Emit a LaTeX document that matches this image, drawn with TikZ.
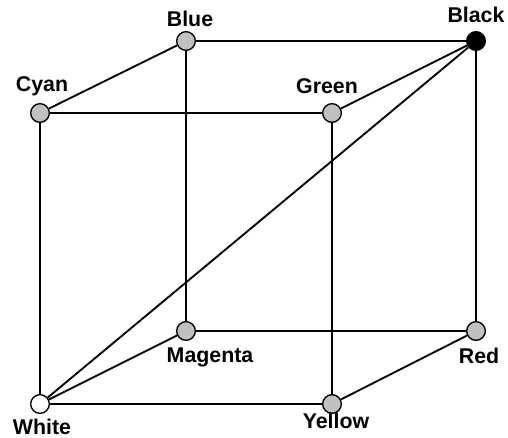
\documentclass[tikz,border=0pt]{standalone}
\usepackage{fontspec}
\setmainfont{Liberation Sans}
\usepackage{tikz}
\usetikzlibrary{positioning}
\definecolor{vgray}{RGB}{192,192,192}

\tikzset{
  vertex/.style={circle, draw=black, line width=1pt, fill=vgray, minimum size=14pt, inner sep=0pt},
  vlabel/.style={font=\fontsize{16}{19}\selectfont\bfseries, inner sep=0pt},
  edge/.style={line width=1.4pt}
}

\begin{document}
\begin{tikzpicture}[x=0.75pt, y=-0.75pt]
\useasboundingbox (0,0) rectangle (508,438);

%====================================================
% VERTICES
%====================================================
\node[vertex] (blue)    at (186,41)  {};
\node[vertex, fill=black] (black) at (476,41) {};
\node[vertex] (cyan)    at (40,113)  {};
\node[vertex] (green)   at (332,113) {};
\node[vertex] (magenta) at (186,331) {};
\node[vertex] (red)     at (476,331) {};
\node[vertex, fill=white] (white) at (40,404) {};
\node[vertex] (yellow)  at (332,404) {};

%====================================================
% LABELS
%====================================================
\node[vlabel] (lblue)    at (190,19)  {Blue};
\node[vlabel] (lblack)   at (476,15)  {Black};
\node[vlabel] (lcyan)    at (42,86)   {Cyan};
\node[vlabel] (lgreen)   at (327,86)  {Green};
\node[vlabel] (lmagenta) at (210,357) {Magenta};
\node[vlabel] (lred)     at (479,356) {Red};
\node[vlabel] (lwhite)   at (42,427)  {White};
\node[vlabel] (lyellow)  at (336,421) {Yellow};

%====================================================
% EDGES
%====================================================
\draw[edge] (blue) -- (black);
\draw[edge] (blue) -- (cyan);
\draw[edge] (cyan) -- (green);
\draw[edge] (green) -- (black);
\draw[edge] (white) -- (black);
\draw[edge] (cyan) -- (white);
\draw[edge] (blue) -- (magenta);
\draw[edge] (green) -- (yellow);
\draw[edge] (black) -- (red);
\draw[edge] (magenta) -- (red);
\draw[edge] (magenta) -- (white);
\draw[edge] (red) -- (yellow);
\draw[edge] (white) -- (yellow);
\end{tikzpicture}
\end{document}
